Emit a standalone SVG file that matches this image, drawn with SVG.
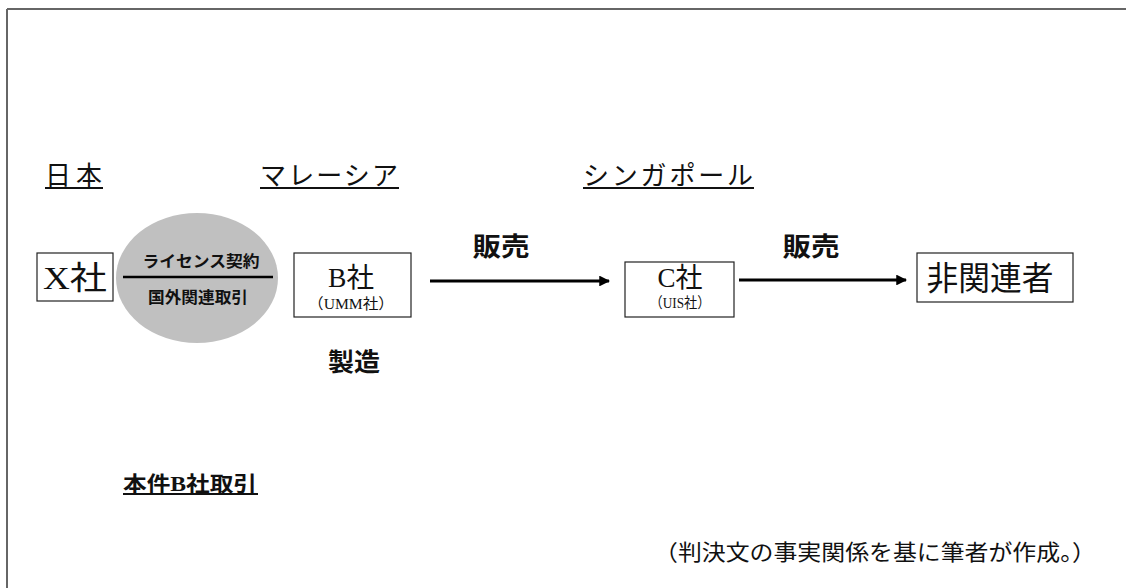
<svg xmlns="http://www.w3.org/2000/svg" width="1126" height="588" viewBox="0 0 1126 588">
<defs>
<style>
.serif{font-family:"Liberation Serif","Noto Sans CJK JP",serif;fill:#111;}
.bold{font-family:"Noto Sans CJK JP","Noto Sans",sans-serif;font-weight:bold;fill:#111;}
.box{fill:#fff;stroke:#222;stroke-width:1.2;}
.ul{stroke:#111;stroke-width:2;}
.conn{stroke:#000;stroke-width:3;fill:none;marker-end:url(#ah);}
</style>
<marker id="ah" viewBox="0 0 10 10" refX="9" refY="5" markerWidth="3.6" markerHeight="3.6" orient="auto" markerUnits="strokeWidth">
<path d="M0,0 L10,5 L0,10 z" fill="#000"/>
</marker>
</defs>
<rect width="1126" height="588" fill="#fff"/>
<g id="frame">
<line x1="7" y1="9" x2="1126" y2="9" stroke="#666" stroke-width="2"/>
<line x1="7" y1="9" x2="7" y2="588" stroke="#666" stroke-width="2"/>
</g>
<g id="region-japan">
<text class="serif" x="45" y="185" font-size="26" textLength="57" lengthAdjust="spacing">日本</text>
<line class="ul" x1="45" y1="188" x2="103" y2="188"/>
</g>
<g id="region-malaysia">
<text class="serif" x="260" y="185" font-size="26" textLength="138" lengthAdjust="spacing">マレーシア</text>
<line class="ul" x1="260" y1="188" x2="399" y2="188"/>
</g>
<g id="region-singapore">
<text class="serif" x="583" y="185" font-size="26" textLength="170" lengthAdjust="spacing">シンガポール</text>
<line class="ul" x1="583" y1="188" x2="754" y2="188"/>
</g>
<g id="node-x">
<rect class="box" x="37" y="253" width="76" height="48"/>
<text class="serif" x="75" y="289" font-size="32" text-anchor="middle" textLength="64" lengthAdjust="spacingAndGlyphs">X社</text>
</g>
<g id="node-license">
<ellipse cx="197" cy="278" rx="81" ry="65" fill="#c0c0c0"/>
<line x1="123" y1="277" x2="273" y2="277" stroke="#000" stroke-width="2.5"/>
<text class="bold" x="201" y="267" font-size="16" text-anchor="middle" textLength="117" lengthAdjust="spacingAndGlyphs">ライセンス契約</text>
<text class="bold" x="198" y="303" font-size="16" text-anchor="middle" textLength="100" lengthAdjust="spacingAndGlyphs">国外関連取引</text>
</g>
<g id="node-b">
<rect class="box" x="294" y="253" width="117" height="64"/>
<text class="serif" x="351" y="287" font-size="27" text-anchor="middle" textLength="46" lengthAdjust="spacingAndGlyphs">B社</text>
<text class="serif" x="351" y="309" font-size="15" text-anchor="middle" textLength="86" lengthAdjust="spacingAndGlyphs" fill="#333">（UMM社）</text>
</g>
<g id="label-manufacture">
<text class="bold" x="354" y="371" font-size="25" text-anchor="middle" textLength="52" lengthAdjust="spacingAndGlyphs">製造</text>
</g>
<g id="node-c">
<rect class="box" x="625" y="262" width="109" height="55"/>
<text class="serif" x="680" y="287" font-size="27" text-anchor="middle" textLength="45" lengthAdjust="spacingAndGlyphs">C社</text>
<text class="serif" x="680" y="308" font-size="15" text-anchor="middle" textLength="61" lengthAdjust="spacingAndGlyphs" fill="#333">（UIS社）</text>
</g>
<g id="node-unrelated">
<rect class="box" x="917" y="253" width="156" height="49"/>
<text class="serif" x="990" y="290" font-size="33" text-anchor="middle" textLength="127" lengthAdjust="spacingAndGlyphs">非関連者</text>
</g>
<g id="connectors">
<line class="conn" x1="430" y1="281" x2="609" y2="281"/>
<line class="conn" x1="739" y1="280" x2="906" y2="280"/>
<text class="bold" x="501" y="256" font-size="26" text-anchor="middle" textLength="57" lengthAdjust="spacingAndGlyphs">販売</text>
<text class="bold" x="811" y="256" font-size="26" text-anchor="middle" textLength="57" lengthAdjust="spacingAndGlyphs">販売</text>
</g>
<g id="caption">
<text class="serif" x="123" y="491" font-size="21" font-weight="bold" textLength="134" lengthAdjust="spacingAndGlyphs">本件B社取引</text>
<line class="ul" x1="123" y1="494" x2="258" y2="494"/>
</g>
<g id="footnote">
<text class="serif" x="654" y="560" font-size="22" textLength="442" lengthAdjust="spacingAndGlyphs" fill="#222">（判決文の事実関係を基に筆者が作成。）</text>
</g>
</svg>
